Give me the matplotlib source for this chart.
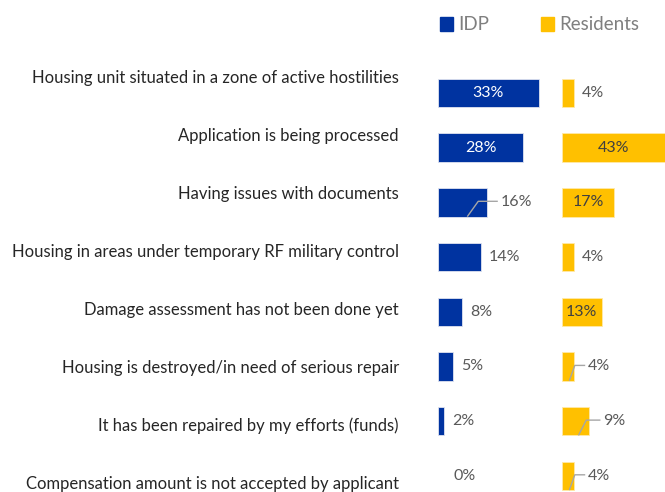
import matplotlib
matplotlib.use("Agg")
import matplotlib.pyplot as plt
from matplotlib.patches import Rectangle

categories = [
    "Housing unit situated in a zone of active hostilities",
    "Application is being processed",
    "Having issues with documents",
    "Housing in areas under temporary RF military control",
    "Damage assessment has not been done yet",
    "Housing is destroyed/in need of serious repair",
    "It has been repaired by my efforts (funds)",
    "Compensation amount is not accepted by applicant",
]
idp = [33, 28, 16, 14, 8, 5, 2, 0]
residents = [4, 43, 17, 4, 13, 4, 9, 4]
series_names = ["IDP", "Residents"]
leader_idp = [2]
leader_res = [5, 6, 7]

BLUE = "#0033A0"
YELLOW = "#FFC000"
GRAY = "#595959"
LGRAY = "#A6A6A6"
FONT = "Lato"

W, H = 665, 492
fig = plt.figure(figsize=(W / 100, H / 100), dpi=100)
fig.patch.set_facecolor("white")

px_per_pct = 3.05
spacing = 54.7
top_c = 93
n = len(categories)
ax_top = top_c - spacing / 2
ax_h = H - ax_top
ylim_bottom = -0.5 + ax_h / spacing

def make_ax(left_px, width_px):
    ax = fig.add_axes([left_px / W, 0, width_px / W, ax_h / H])
    ax.set_xlim(0, width_px / px_per_pct)
    ax.set_ylim(ylim_bottom, -0.5)
    ax.axis("off")
    return ax

ax1 = make_ax(438, 124)
ax2 = make_ax(562, W - 562)

def draw(ax, vals, color, edge, inside_thresh, inside_color, leaders):
    xmax = ax.get_xlim()[1]
    ys = list(range(len(vals)))
    lws = [0.6 if v > 0 else 0 for v in vals]
    ax.barh(ys, vals, height=0.52, color=color, edgecolor=edge, linewidth=lws)
    for i, v in enumerate(vals):
        lab = f"{v}%"
        if v >= inside_thresh:
            ax.text(min(v, xmax) / 2, i, lab, ha="center", va="center",
                    color=inside_color, fontsize=11.5, family=FONT)
        elif i in leaders:
            x0 = v * 0.6
            y0 = i + 0.26
            xl = v + 11 / px_per_pct
            ax.plot([x0, x0 + 1.2 + v * 0.15, xl], [y0, i - 0.02, i - 0.02],
                    color=LGRAY, lw=1, solid_capstyle="butt", clip_on=False)
            ax.text(xl + 2.5 / px_per_pct, i, lab, ha="left", va="center",
                    color=GRAY, fontsize=11.5, family=FONT)
        else:
            ax.text(v + (15 if v == 0 else 8) / px_per_pct, i, lab, ha="left", va="center",
                    color=GRAY, fontsize=11.5, family=FONT)

draw(ax1, idp, BLUE, "#dfe3f0", 20, "white", leader_idp)
draw(ax2, residents, YELLOW, "#ffe9a8", 13, "#404040", leader_res)

# category labels
lab_top, lab_step = 78, 58
for i, c in enumerate(categories):
    fig.text(399 / W, 1 - (lab_top + i * lab_step) / H, c, ha="right", va="center",
             color="#262626", fontsize=12, family=FONT)

# legend
for name, color, x_sq in [(series_names[0], BLUE, 440), (series_names[1], YELLOW, 541)]:
    fig.patches.append(Rectangle((x_sq / W, 1 - 31 / H), 13 / W, 14 / H,
                                 transform=fig.transFigure, color=color))
    fig.text((x_sq + 18) / W, 1 - 24 / H, name, ha="left", va="center",
             color="#7f7f7f", fontsize=13.5, family=FONT)

fig.savefig("out.png", dpi=100)
